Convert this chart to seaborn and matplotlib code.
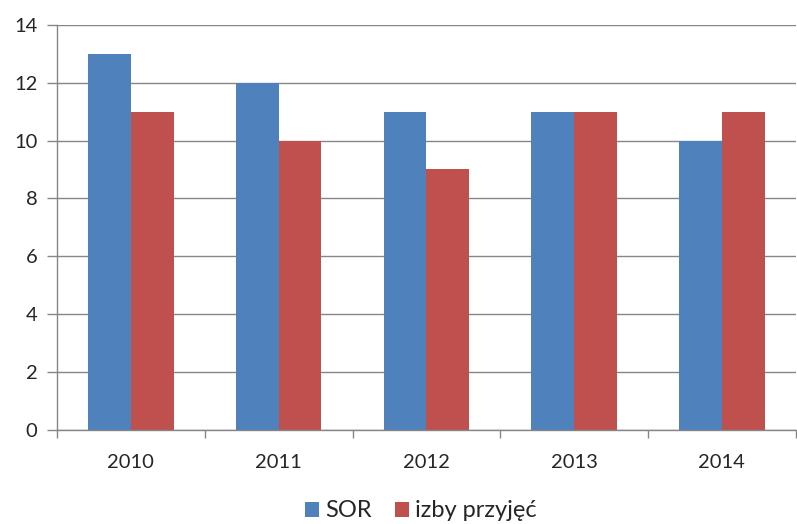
import pandas as pd
import seaborn as sns
import matplotlib.pyplot as plt

years = ['2010', '2011', '2012', '2013', '2014']
sor = [13, 12, 11, 11, 10]
izby = [11, 10, 9, 11, 11]
series_names = ['SOR', 'izby przyjęć']
colors = ['#4F81BD', '#C0504D']

df = pd.DataFrame({
    'rok': years * 2,
    'wartosc': sor + izby,
    'seria': [series_names[0]] * len(years) + [series_names[1]] * len(years),
})

sns.set_theme(style='white')
plt.rcParams['font.family'] = ['Lato', 'DejaVu Sans']

fig = plt.figure(figsize=(7.97, 5.24), dpi=100)
ax = fig.add_axes([0.0715, 0.179, 0.927, 0.774])

sns.barplot(data=df, x='rok', y='wartosc', hue='seria', palette=colors,
            width=0.58, gap=0, saturation=1, linewidth=0, ax=ax, legend=True)

grid_col = '#868686'
ax.set_ylim(0, 14)
ax.set_yticks(range(0, 15, 2))
ax.set_xlim(-0.5, 4.5)
ax.yaxis.grid(True, color=grid_col, linewidth=1)
ax.set_axisbelow(True)
for side in ['top', 'right']:
    ax.spines[side].set_visible(False)
for side in ['left', 'bottom']:
    ax.spines[side].set_color(grid_col)
    ax.spines[side].set_linewidth(1)

# ticks on category boundaries for x, outward marks for y
ax.set_xticks([i for i in range(5)])
ax.set_xticks([i - 0.5 for i in range(6)], minor=True)
ax.tick_params(axis='x', which='major', length=0, labelsize=14.5, pad=17)
ax.tick_params(axis='x', which='minor', length=6, color=grid_col, width=1, bottom=True)
ax.tick_params(axis='y', length=7, color=grid_col, width=1, left=True, labelsize=14.5, pad=7)
ax.set_xlabel('')
ax.set_ylabel('')

handles, labels = ax.get_legend_handles_labels()
ax.get_legend().remove()
fig.legend(handles, labels, loc='center', bbox_to_anchor=(0.528, 0.025), ncol=2,
           frameon=False, fontsize=17, handlelength=0.6, handleheight=0.6,
           handletextpad=0.25, columnspacing=1.0, borderpad=0.2)

fig.savefig('out.png', dpi=100)
